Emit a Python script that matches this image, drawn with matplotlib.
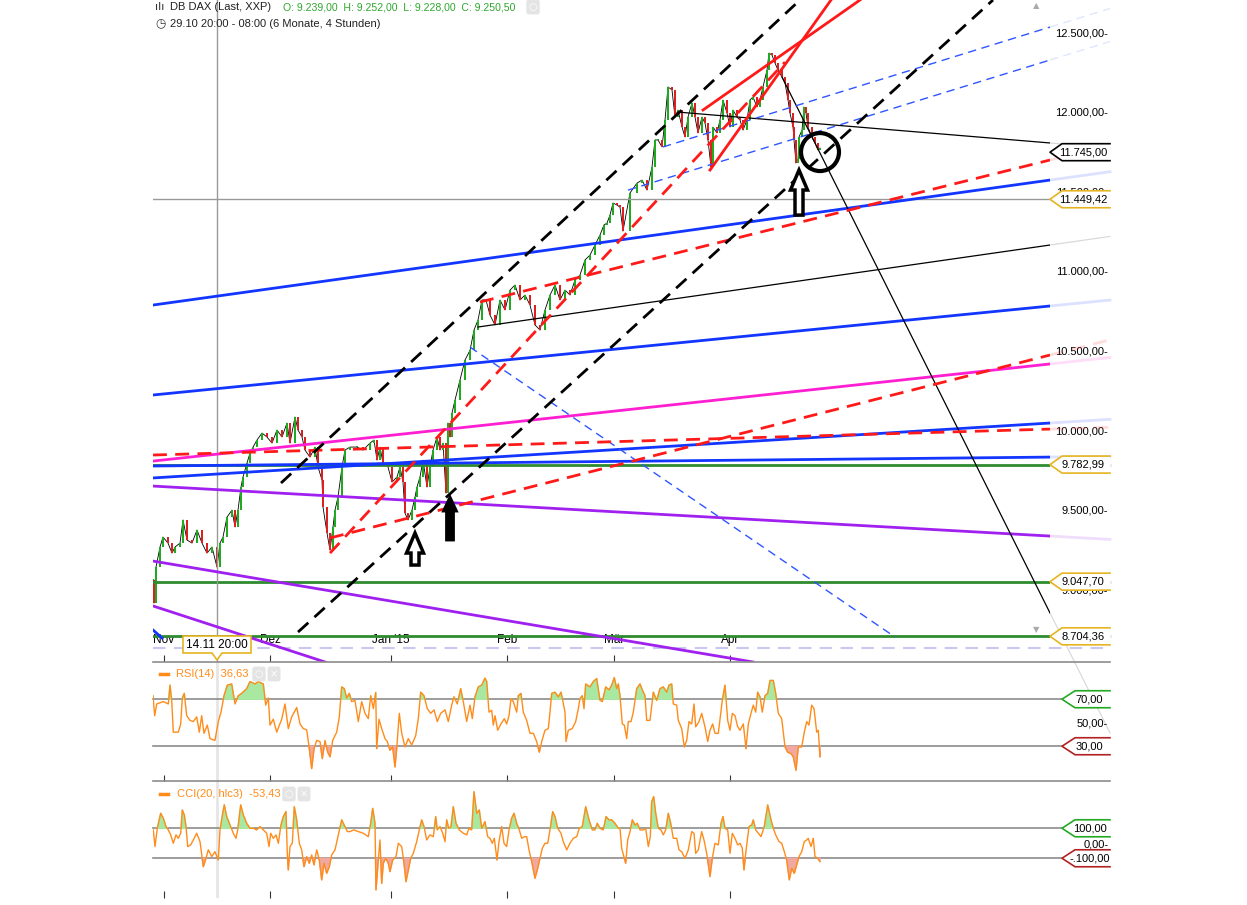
import numpy as np
import matplotlib.pyplot as plt
from matplotlib.patches import Polygon, Ellipse, FancyArrow
from matplotlib.lines import Line2D
from matplotlib.ticker import FuncFormatter, FixedLocator

W, H = 1247, 905
plt.rcParams['font.family'] = ['Liberation Sans', 'DejaVu Sans']

# ---- data (x = chart column position, prices in index points) ----
month_pos = [164, 270, 391, 507, 614, 730]
month_labels = ['Nov', 'Dez', "Jan '15", 'Feb', 'Mär', 'Apr']

price_x = [153, 154, 156, 160, 163, 168, 172, 175, 180, 183, 187, 192, 197, 202, 207, 212,
           217, 220, 223, 227, 232, 235, 238, 241, 243, 247, 250, 253, 257, 262, 267, 272,
           277, 282, 287, 290, 295, 298, 302, 305, 310, 315, 318, 322, 323, 327, 330, 333,
           335, 338, 342, 345, 350, 357, 363, 370, 374, 377, 380, 383, 388, 392, 397, 400,
           403, 405, 408, 412, 415, 417, 420, 423, 427, 430, 433, 437, 440, 443, 446, 448,
           450, 452, 455, 460, 465, 470, 474, 478, 482, 486, 490, 495, 500, 505, 510, 515,
           520, 525, 530, 535, 540, 545, 550, 555, 560, 565, 570, 575, 580, 585, 590, 595,
           600, 604, 607, 610, 613, 617, 620, 623, 630, 637, 642, 647, 652, 655, 658, 662,
           665, 668, 672, 675, 678, 682, 685, 688, 692, 695, 698, 702, 705, 708, 711, 713,
           717, 720, 723, 727, 730, 733, 737, 740, 743, 747, 750, 753, 757, 760, 763, 767,
           769, 772, 775, 778, 782, 785, 788, 790, 793, 794, 796, 798, 799, 802, 804, 806,
           808, 812, 815, 818, 820]
price_close = [9058, 8913, 9139, 9265, 9328, 9290, 9227, 9265, 9290, 9435, 9309, 9290, 9372, 9290, 9227, 9265,
               9139, 9290, 9328, 9453, 9497, 9391, 9497, 9642, 9705, 9793, 9855, 9893, 9937, 9981, 9956, 9918,
               10000, 9956, 10044, 9918, 10082, 10000, 9956, 9874, 9830, 9893, 9768, 9686, 9516, 9353, 9246, 9391,
               9497, 9579, 9768, 9874, 9893, 9893, 9874, 9918, 9937, 9811, 9893, 9793, 9768, 9673, 9705, 9768,
               9673, 9478, 9435, 9497, 9579, 9642, 9705, 9811, 9642, 9768, 9874, 9956, 9874, 9918, 9604, 10044,
               9956, 10107, 10188, 10314, 10440, 10500, 10628, 10691, 10817, 10817, 10722, 10660, 10817, 10754, 10879, 10911,
               10817, 10848, 10785, 10660, 10628, 10754, 10848, 10911, 10817, 10879, 10848, 10942, 10974, 11068, 11099, 11162,
               11225, 11288, 11300, 11350, 11426, 11413, 11400, 11250, 11489, 11551, 11570, 11507, 11652, 11822, 11822, 11778,
               11947, 12155, 12136, 11966, 12010, 11903, 11840, 11966, 12054, 11966, 11866, 11966, 11928, 11822, 11652, 11903,
               11866, 11947, 12073, 11991, 11903, 12010, 11966, 11947, 11884, 11947, 12073, 12092, 12029, 12073, 12155, 12261,
               12368, 12355, 12305, 12261, 12217, 12180, 12073, 11991, 11903, 11822, 11677, 11700, 11840, 11884, 12029, 11991,
               11903, 11840, 11803, 11759, 11771]

rsi_x = [153, 154.7, 156.7, 163.3, 168.3, 170, 171.7, 173.3, 178.3, 180.7, 182.3, 184.3, 186.7, 190, 193.3, 196.7,
         199.3, 201.7, 204, 207.3, 210, 215, 218.3, 221, 224, 227.3, 231.7, 235, 238.3, 241.7, 246.7, 250,
         255, 258.3, 263.3, 265.7, 268.3, 270, 273.3, 276.7, 281.7, 285, 288.3, 291.7, 296.7, 300, 303.3, 306.7,
         309.3, 311.7, 314, 316.7, 320, 322.3, 325, 327.7, 330, 332.7, 336.7, 339.3, 341.7, 344.3, 346.7, 349.3,
         351.7, 355, 358.3, 361.7, 365, 368.3, 370.7, 373.3, 375.7, 376.7, 379, 381.7, 385, 387.3, 390, 392.7,
         395, 396.7, 399.3, 401.7, 405, 408.3, 411.7, 415.7, 418.3, 420.7, 424, 427.3, 430.7, 434, 437.3, 440.7,
         445, 448.3, 451.7, 454, 457.3, 460.7, 463.3, 466.7, 470, 472.3, 475, 478.3, 481.7, 485, 486.7, 489,
         491.7, 493.3, 495, 497.7, 501, 504.3, 506.7, 509, 511, 513.3, 516.7, 518.3, 521, 523.3, 526.7, 530,
         533.3, 536.7, 539.3, 541.7, 545, 548.3, 550, 551.7, 555, 558.3, 561, 562.7, 565, 566, 568.3, 572.3,
         575.7, 578.3, 580, 582.3, 584, 585.7, 590, 593.3, 596.7, 600, 602.3, 605.7, 609, 611.7, 614.3, 616.7,
         618.3, 620, 622.3, 624.3, 626.7, 628.3, 631, 633.3, 636.7, 640, 642.3, 645, 646.7, 650, 653.3, 656.7,
         660, 663.3, 666.7, 669, 671.7, 673.3, 676.7, 678.3, 681.7, 684.3, 686.7, 689, 691.7, 694, 695.7, 699,
         701.7, 705, 707.7, 710, 712.7, 715, 718.3, 722.3, 725, 727.7, 730, 732.3, 735, 737.7, 740, 743.3,
         746, 748.3, 751, 753.3, 755.7, 757.7, 760, 762.3, 765, 767.7, 770, 773.3, 775.7, 778.3, 781.7, 785,
         787.7, 791, 793.3, 796, 798.3, 801.7, 804.3, 806.7, 809, 811.7, 814, 816.7, 818.3, 820]
rsi_v = [73, 56, 66, 68, 66, 82, 69, 42, 42, 49, 71, 75, 56, 52, 51, 55,
         42, 56, 41, 48, 36.5, 35, 51, 59, 73, 82, 83, 66, 73, 75, 79, 85,
         83, 85, 83, 65, 71, 48, 53, 42, 53, 66, 45, 55, 63, 49, 45, 44,
         28, 11, 28, 35, 34, 19.5, 35, 25, 21, 35, 42, 55, 80.5, 79, 71, 75,
         68, 69, 51, 68, 58, 53.5, 73, 62, 75.7, 28, 53, 45, 36.5, 34, 26.6, 29.5,
         12.4, 28, 58, 41, 29.5, 36.5, 31, 39, 53.5, 76, 73, 62, 58, 61, 51, 58,
         61, 51, 65, 72, 66, 79, 68, 51, 65, 53.5, 72, 80.5, 82, 88, 85, 59,
         60.6, 48, 56, 43.6, 49, 53.5, 49, 56, 70.6, 68, 59, 73, 75, 59, 52, 41,
         41, 34, 25, 34, 43.6, 45, 59, 75, 76, 72, 76, 69, 59, 34, 43.6, 45,
         51, 62, 70.6, 73, 62, 83, 80.5, 85, 87.6, 69, 68, 80.5, 78, 82, 88.4, 79,
         83, 73, 49, 48, 36.5, 51, 51, 59, 79, 83, 78, 73, 52, 52, 76, 69,
         79, 80.5, 76, 82, 83, 66, 65, 52, 45, 29.5, 35, 51, 49, 66, 46.5, 51,
         58, 46.5, 34, 43.6, 49, 41, 41, 69, 82, 52, 43.6, 58, 56, 46.5, 43.6, 49,
         28, 49, 58, 65, 59, 76, 72, 59, 73, 75, 86, 86, 75, 58, 53.5, 29.5,
         25, 23.8, 21, 9.6, 29.5, 29.5, 42, 51, 48, 65, 62, 42, 43.6, 21]

cci_x = [153.3, 155, 157.3, 160.7, 163.3, 166, 168.3, 170.7, 173.3, 176, 178.3, 180.7, 182.3, 184.3, 186, 187.7,
         190.7, 193.3, 196.7, 200, 203.3, 206, 208.3, 211.7, 215, 218.3, 220, 222.7, 224.3, 226.7, 230, 233.3,
         236, 237.7, 240.7, 243.3, 246.7, 250, 253.3, 256.7, 260, 263.3, 266.7, 269, 270.7, 273.3, 276, 278.3,
         281, 283.3, 286, 287.3, 288.3, 290, 292.3, 294.3, 296.7, 299.3, 301.7, 304, 306.7, 309.3, 311.7, 314,
         316.7, 319.3, 321.7, 324, 326.7, 329.3, 331.7, 335, 338.3, 341.7, 345, 347.3, 350, 354, 358.3, 363.3,
         368.3, 370.7, 372.7, 375, 376, 378.3, 380, 381.7, 383.3, 385.7, 388.3, 390, 392.7, 396, 398.3, 401.7,
         404, 406, 408.3, 410.7, 413.3, 416.7, 419.3, 421.7, 424, 426.7, 430, 433.3, 435.7, 437.3, 440, 442.7,
         445, 446.7, 448.7, 451, 453.3, 456, 459.3, 463.3, 466.7, 469, 471.7, 474, 476.7, 479.3, 481.7, 485,
         487.7, 490, 492.3, 494.3, 497, 499, 501.7, 504, 506.7, 509, 511.7, 514, 516.7, 519.3, 521.7, 524.3,
         526.7, 529, 531.7, 535, 537.7, 540, 542.3, 545, 547.7, 550, 552.7, 555, 557.7, 561, 563.3, 566.7,
         570, 573.3, 576.7, 579.3, 582.3, 585.7, 589, 592.3, 595, 597.3, 600, 603.3, 606, 609, 611.7, 615,
         618.3, 620, 621.7, 624.3, 625.7, 627.7, 630, 632.3, 635, 637.3, 640, 643.3, 645.7, 648.3, 650.3, 651.7,
         653.7, 655.7, 658.3, 661, 663.3, 665.7, 668.3, 670.7, 673.3, 676.7, 679, 681.7, 685, 688.3, 691.7, 694,
         695.7, 698.3, 701.7, 704, 706.7, 710, 712.3, 715, 718.3, 721, 723, 725, 727.7, 730, 732.3, 735,
         737.7, 740, 742.3, 744, 745.7, 749, 751.7, 753.3, 755.7, 758.3, 761, 764.3, 767.7, 771, 773.3, 775.7,
         779, 781.7, 784.3, 786.7, 789.3, 791.7, 794.3, 796.7, 799, 801.7, 804.3, 806.7, 808.3, 811, 813.3, 815,
         817.7, 820]
cci_v = [89, -22, 100, 200, 167, 111, 89, 56, 0, 56, 33, 67, 222, 189, 111, -22,
         -11, 22, 67, 11, -156, -100, -44, -89, -56, -111, 89, 200, 256, 178, 122, 67,
         33, 89, 256, 189, 133, 100, 100, 89, 111, 89, 67, -22, 67, 33, 56, 0,
         122, 178, 211, -67, -178, -22, 0, 244, 156, 0, -44, -156, -89, -133, -78, -144,
         -44, -111, -244, -133, -200, -156, -78, -44, 56, 156, 111, 78, 78, 89, 78, 67,
         44, 133, 233, 133, -311, -111, 22, -267, -133, -100, -133, -189, -111, -89, 0, -22,
         -133, -256, -178, -100, -67, 11, 89, 156, 111, 22, 56, 44, 178, 89, 111, 67,
         11, 156, 100, 111, 244, 133, 89, 67, 56, 100, 89, 344, 200, 222, 100, 144,
         44, 33, 0, 33, -111, 11, 111, 0, -22, 89, 167, 200, 133, 89, 33, 44,
         44, -44, -122, -233, -167, -100, -33, 0, 0, 89, 211, 178, 100, 67, 11, -44,
         0, 33, 44, 100, 111, 244, 156, 89, 89, 133, 100, 89, 178, 156, 156, 133,
         100, 100, -33, -100, -133, 22, 78, 156, 122, 133, 89, 89, 100, -22, 44, 278,
         311, 200, 100, 89, 56, 89, 200, 133, 33, 33, -44, -56, -100, -44, 78, 67,
         -67, -44, 78, 22, -67, -222, -100, 0, -11, 133, 178, 100, 89, -67, 67, 33,
         -11, 0, -33, -178, -67, 111, 122, 156, 89, 67, 44, 111, 256, 156, 100, 56,
         11, 0, -56, -111, -244, -167, -200, -144, -89, -56, 11, 22, 33, -22, 33, -89,
         -100, -122]

# drawn trend lines: (x0, price0, x1, price1)
black_dashed = [(281, 9667, 800, 12701), (298, 8731, 993, 12701)]
red_solid = [(703, 12010, 860, 12701), (710, 11633, 831, 12701)]
red_dashed = [(330, 9227, 785, 12311), (330, 9322, 1050, 10471), (153, 9843, 1050, 10006),
              (480, 10804, 1050, 11696)]
blue_dashed = [(470, 10521, 895, 8700), (663, 11778, 1050, 12531), (628, 11507, 1050, 12324)]
black_thin = [(678, 11997, 1050, 11803), (478, 10647, 1050, 11162), (782, 12217, 1050, 8851)]
blue_solid = [(153, 10785, 1050, 11570), (153, 10220, 1050, 10779), (153, 9699, 1050, 10044),
              (153, 9774, 1050, 9830), (153, 8744, 162, 8694)]
magenta = [(153, 9805, 1050, 10415)]
purple = [(153, 9648, 1050, 9334), (153, 9177, 753, 8543), (153, 8895, 325, 8543)]
green_levels = [9782.99, 9047.70, 8704.36]
lavender_level = 8631
cursor_x, cursor_price = 217, 11449.42
last_price = 11745.00

# arrows: (x, base price, tip price)
arrows_hollow = [(415, 9152, 9353), (799, 11350, 11633)]
arrows_filled = [(450, 9309, 9579)]
circle_center = (820, 11746)

main_ticks = [9000, 9500, 10000, 10500, 11000, 11500, 12000, 12500]
main_boxes = [(last_price, 'black'), (cursor_price, '#e6b422'), (9782.99, '#e6b422'),
              (9047.70, '#e6b422'), (8704.36, '#e6b422')]


def de(v):
    s = f"{v:,.2f}"
    return s.replace(',', 'X').replace('.', ',').replace('X', '.')


def fx(px):
    return px / W


def fy(py):
    return 1 - py / H


fig = plt.figure(figsize=(W / 100, H / 100), dpi=100)
ax = fig.add_axes([fx(153), fy(662), fx(1050) - fx(153), fy(0) - fy(662)])
rsi = fig.add_axes([fx(153), fy(781.5), fx(1050) - fx(153), fy(662) - fy(781.5)])
cci = fig.add_axes([fx(153), fy(898), fx(1050) - fx(153), fy(781.5) - fy(898)])

ax.set_ylim(8543, 12701)
rsi.set_ylim(0, 101.7)
cci.set_ylim(-365, 412)
for a in (ax, rsi, cci):
    a.set_xlim(153, 1050)
    for s in a.spines.values():
        s.set_visible(False)
    a.xaxis.set_major_locator(FixedLocator(month_pos))
    a.tick_params(axis='x', direction='in', length=5, color='#333333')
    a.yaxis.tick_right()
    a.tick_params(axis='y', length=0, pad=42, labelsize=8)
    a.yaxis.set_major_formatter(FuncFormatter(lambda v, p: de(v) + '-'))

ax.set_xticklabels(month_labels, fontsize=8.5)
ax.tick_params(axis='x', pad=-20)
rsi.set_xticklabels([])
cci.set_xticklabels([])
ax.set_yticks(main_ticks)
rsi.set_yticks([50])
cci.set_yticks([0])
for a in (ax, rsi, cci):
    for t in a.get_yticklabels():
        t.set_horizontalalignment('right')

# separators
for yy in (662, 781):
    fig.add_artist(Line2D([fx(153), fx(1110)], [fy(yy), fy(yy)], color='#8c8c8c', lw=1.2))


def trend(lines, **kw):
    for x0, p0, x1, p1 in lines:
        ax.plot([x0, x1], [p0, p1], **kw)
        if x1 >= 1050:
            slope = (p1 - p0) / (x1 - x0)
            xe = 1110
            pe = p1 + slope * (xe - x1)
            ax.plot([x1, xe], [p1, pe], clip_on=False, alpha=0.15, **kw)


# candles
opens = [price_close[0]] + price_close[:-1]
for x, o, c in zip(price_x, opens, price_close):
    col = '#1faa1f' if c >= o else '#dd1f1f'
    ax.bar(x, max(abs(c - o), 8), bottom=min(o, c), width=1.6, color=col, zorder=2)
ax.plot(price_x, price_close, color='black', lw=0.6, zorder=1.5)

# horizontal levels
for lv in green_levels:
    trend([(153, lv, 1050, lv)], color='#2e8b2e', lw=2, zorder=3)
ax.plot([153, 1110], [lavender_level] * 2, color='#c8c8f0', lw=1.5, ls=(0, (6, 4)), clip_on=False)
ax.axhline(cursor_price, color='#999999', lw=1, zorder=3)
ax.axvline(cursor_x, color='#999999', lw=1, zorder=3)
for a in (rsi, cci):
    a.axvline(cursor_x, color='#e6e6e6', lw=2, zorder=0)

trend(blue_solid, color='#1236ff', lw=2, zorder=3)
trend(magenta, color='#ff1fd2', lw=2, zorder=3)
trend(purple, color='#a020f0', lw=2, zorder=3)
trend(black_thin, color='black', lw=0.9, zorder=3)
trend(blue_dashed, color='#2f55ff', lw=1, ls=(0, (6, 4)), zorder=3)
trend(red_dashed, color='#ff1a1a', lw=2, ls=(0, (5, 3)), zorder=3)
trend(black_dashed, color='black', lw=2, ls=(0, (5, 3)), zorder=3)
trend(red_solid, color='#ff1a1a', lw=2, zorder=3)

# arrows and circle
pp = 6.281  # price per pixel
for x, b, t in arrows_hollow:
    ax.add_patch(FancyArrow(x, b, 0, t - b, width=8, head_width=17, head_length=20 * pp,
                            length_includes_head=True, fc='white', ec='black', lw=2.5, zorder=6))
for x, b, t in arrows_filled:
    ax.add_patch(FancyArrow(x, b, 0, t - b, width=7, head_width=13, head_length=14 * pp,
                            length_includes_head=True, fc='black', ec='black', lw=2, zorder=6))
ax.add_patch(Ellipse(circle_center, 38, 38 * pp, fill=False, ec='black', lw=3, zorder=6))


def value_box(a, y, text, edge, hh, tip=1050, body=1062):
    pts = [(1110, y + hh), (body, y + hh), (tip, y), (body, y - hh), (1110, y - hh)]
    a.add_patch(Polygon(pts, closed=True, fc='white', ec='none', clip_on=False, zorder=8))
    xs, ys = zip(*pts)
    a.plot(xs, ys, color=edge, lw=1.2, clip_on=False, zorder=9)
    a.text((body + 1110) / 2 - 3, y, text, ha='center', va='center', fontsize=8, zorder=10,
           clip_on=False)


for v, ec in main_boxes:
    value_box(ax, v, de(v), ec, 8.5 * pp)

# indicator panels
orange = '#ff8c1a'
rsi_x_a, rsi_v_a = np.array(rsi_x), np.array(rsi_v)
rsi.plot(rsi_x_a, rsi_v_a, color=orange, lw=1, zorder=3)
rsi.fill_between(rsi_x_a, rsi_v_a, 70, where=rsi_v_a >= 70, interpolate=True, color='#a8e8a0', zorder=2)
rsi.fill_between(rsi_x_a, rsi_v_a, 30, where=rsi_v_a <= 30, interpolate=True, color='#f0a8a0', zorder=2)
for lv in (70, 30):
    rsi.plot([153, 1062], [lv, lv], color='#8c8c8c', lw=1.2, clip_on=False, zorder=1)
value_box(rsi, 70, '70,00', '#22aa22', 8.5 / 1.175, tip=1062, body=1075)
value_box(rsi, 30, '30,00', '#b22222', 8.5 / 1.175, tip=1062, body=1075)

cci_x_a, cci_v_a = np.array(cci_x), np.array(cci_v)
cci.plot(cci_x_a, cci_v_a, color=orange, lw=1, zorder=3)
cci.fill_between(cci_x_a, cci_v_a, 100, where=cci_v_a >= 100, interpolate=True, color='#a8e8a0', zorder=2)
cci.fill_between(cci_x_a, cci_v_a, -100, where=cci_v_a <= -100, interpolate=True, color='#f0a8a0', zorder=2)
for lv in (100, -100):
    cci.plot([153, 1062], [lv, lv], color='#8c8c8c', lw=1.2, clip_on=False, zorder=1)
value_box(cci, 100, '100,00', '#22aa22', 8.5 / 0.15, tip=1062, body=1075)
value_box(cci, -100, '-.100,00', '#b22222', 8.5 / 0.15, tip=1062, body=1075)

# panel titles
fig.add_artist(Line2D([fx(160), fx(168)], [fy(674)] * 2, color=orange, lw=2.5))
fig.text(fx(176), fy(674), 'RSI(14)  36,63', color=orange, fontsize=8, va='center')
fig.add_artist(Line2D([fx(160), fx(168)], [fy(794)] * 2, color=orange, lw=2.5))
fig.text(fx(177), fy(794), 'CCI(20, hlc3)  -53,43', color=orange, fontsize=8, va='center')
for x0, y0, g in ((253, 668, '○'), (268, 668, '×'), (283, 788, '○'), (298, 788, '×'), (527, 1, '○')):
    fig.text(fx(x0 + 6), fy(y0 + 6), g, color='white', fontsize=7, ha='center', va='center',
             family='DejaVu Sans', bbox=dict(boxstyle='round,pad=0.25', fc='#e4e4e4', ec='none'))

# header
fig.text(fx(155), fy(7), 'ılı', fontsize=8, va='center', family='DejaVu Sans', color='#333333')
fig.text(fx(170), fy(7), 'DB DAX (Last, XXP)', fontsize=8, va='center', color='#222222')
fig.text(fx(283), fy(7), 'O: 9.239,00  H: 9.252,00  L: 9.228,00  C: 9.250,50', fontsize=7.6,
         va='center', color='#2ea82e')
fig.text(fx(155), fy(24), '◷', fontsize=8.5, va='center', family='DejaVu Sans', color='#333333')
fig.text(fx(170), fy(24), '29.10 20:00 - 08:00 (6 Monate, 4 Stunden)', fontsize=8, va='center',
         color='#222222')
fig.text(fx(1036), fy(6), '▲', fontsize=6, color='#aaaaaa', ha='center', va='center', family='DejaVu Sans')
fig.text(fx(1036), fy(630), '▼', fontsize=6, color='#aaaaaa', ha='center', va='center', family='DejaVu Sans')

# cursor date box
bx = [(183, 636), (251, 636), (251, 653), (222, 653), (217, 660), (212, 653), (183, 653)]
fig.add_artist(Polygon([(fx(a), fy(b)) for a, b in bx], closed=True, fc='white', ec='#e6b422',
                       lw=1.2, transform=fig.transFigure, zorder=10))
fig.text(fx(217), fy(644.5), '14.11 20:00', fontsize=8.5, ha='center', va='center', zorder=11)

fig.savefig('out.png', dpi=100)
